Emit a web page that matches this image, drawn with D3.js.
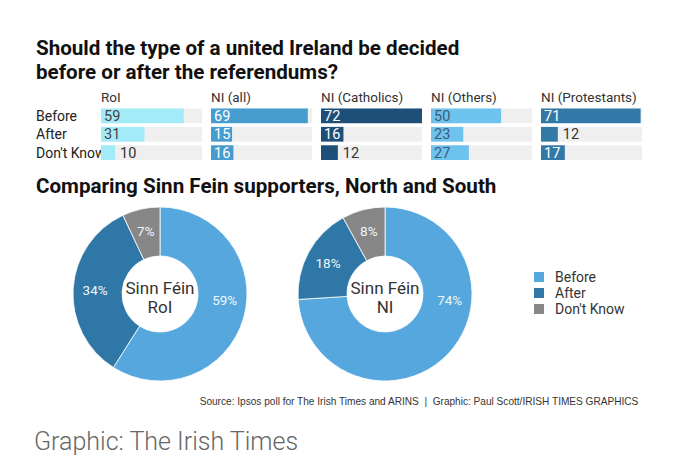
<!DOCTYPE html>
<html><head><meta charset="utf-8">
<script src="https://cdn.jsdelivr.net/npm/d3@7"></script>
<style>
html,body{margin:0;padding:0;background:#fff;}
svg{display:block;font-family:Roboto,"Noto Sans",sans-serif;}
</style></head>
<body>
<svg id="chart" width="680" height="461"></svg>
<script>
// ---- data ----
const groups = ["RoI", "NI (all)", "NI (Catholics)", "NI (Others)", "NI (Protestants)"];
const answers = ["Before", "After", "Don't Know"];
const beforeVals = [59, 69, 72, 50, 71];
const afterVals = [31, 15, 16, 23, 12];
const dontKnowVals = [10, 16, 12, 27, 17];
const donutTitles = [["Sinn Féin", "RoI"], ["Sinn Féin", "NI"]];
const sfRoI = [59, 34, 7];
const sfNI = [74, 18, 8];
const title1 = ["Should the type of a united Ireland be decided", "before or after the referendums?"];
const title2 = "Comparing Sinn Fein supporters, North and South";
const sourceText = "Source: Ipsos poll for The Irish Times and ARINS  |  Graphic: Paul Scott/IRISH TIMES GRAPHICS";
const footer = "Graphic: The Irish Times";

// ---- styles ----
const groupColors = ["#a4ebfa", "#479ccf", "#1e4f79", "#6dc2ee", "#3379a8"];
const groupText = ["#444", "#fff", "#fff", "#3d5d74", "#fff"];
const donutColors = ["#55a7dd", "#2f77a6", "#878787"];

const svg = d3.select("#chart");
svg.append("rect").attr("width", 680).attr("height", 461).attr("fill", "#fff");

// titles
svg.append("text").attr("x", 36).attr("y", 55).attr("font-size", 20.6).attr("font-weight", 700).attr("fill", "#111")
  .selectAll("tspan").data(title1).join("tspan").attr("x", 36).attr("dy", (d, i) => i ? 23.5 : 0).text(d => d);

// bar panels
const matrix = [beforeVals, afterVals, dontKnowVals];
const x = d3.scaleBand().domain(groups).range([101, 642]).paddingInner(9 / 110).paddingOuter(0);
const y = d3.scaleBand().domain(answers).range([108.5, 160]).paddingInner(0.2).paddingOuter(0);
const v = d3.scaleLinear().domain([0, 72]).range([0, x.bandwidth()]);

svg.append("g").selectAll("text").data(groups).join("text")
  .attr("x", d => x(d)).attr("y", 102).attr("font-size", 13.5).attr("fill", "#333").text(d => d);

svg.append("g").selectAll("text").data(answers).join("text")
  .attr("x", 36).attr("y", d => y(d) + y.bandwidth() / 2 + 5).attr("font-size", 14).attr("fill", "#222").text(d => d);

groups.forEach((g, gi) => {
  const gg = svg.append("g");
  answers.forEach((a, ai) => {
    const val = matrix[ai][gi];
    gg.append("rect").attr("x", x(g)).attr("y", y(a)).attr("width", x.bandwidth()).attr("height", y.bandwidth()).attr("fill", "#efefef");
    const w = v(val);
    gg.append("rect").attr("x", x(g)).attr("y", y(a)).attr("width", w).attr("height", y.bandwidth()).attr("fill", groupColors[gi]);
    const t = gg.append("text").attr("y", y(a) + y.bandwidth() / 2 + 5).attr("font-size", 14.5).text(val);
    const tw = t.node().getComputedTextLength();
    if (tw + 4 <= w) t.attr("x", x(g) + 3).attr("fill", groupText[gi]);
    else t.attr("x", x(g) + w + 5).attr("fill", "#333");
  });
});

// section 2 title
svg.append("text").attr("x", 36).attr("y", 193).attr("font-size", 20.6).attr("font-weight", 700).attr("fill", "#111").text(title2);

// donuts
const pie = d3.pie().sort(null).value(d => d);
const arc = d3.arc().innerRadius(38).outerRadius(87);
const cx = d3.scalePoint().domain([0, 1]).range([160, 385]);
[sfRoI, sfNI].forEach((vals, k) => {
  const g = svg.append("g").attr("transform", `translate(${cx(k)},294)`);
  const arcs = pie(vals);
  g.selectAll("path").data(arcs).join("path").attr("d", arc)
    .attr("fill", (d, i) => donutColors[i]).attr("stroke", "#fff").attr("stroke-width", 0.8);
  g.selectAll("text.lbl").data(arcs).join("text").attr("class", "lbl")
    .attr("transform", d => {
      let ang = (d.startAngle + d.endAngle) / 2;
      if (d.endAngle - d.startAngle > Math.PI) ang = Math.min(ang, Math.PI * 0.53);
      const r = 65;
      return `translate(${r * Math.sin(ang)},${-r * Math.cos(ang) + 5})`;
    })
    .attr("text-anchor", "middle").attr("font-size", 13.5).attr("fill", "#eef6fb").text(d => d.data + "%");
  g.append("text").attr("text-anchor", "middle").attr("font-size", 17).attr("fill", "#333")
    .selectAll("tspan").data(donutTitles[k]).join("tspan").attr("x", 0).attr("y", (d, i) => i ? 19 : 0).text(d => d);
});

// legend
const lg = svg.append("g");
const ly = d3.scalePoint().domain(answers).range([277, 309]);
lg.selectAll("rect").data(answers).join("rect").attr("x", 534).attr("y", d => ly(d) - 5).attr("width", 10).attr("height", 10)
  .attr("fill", (d, i) => donutColors[i]);
lg.selectAll("text").data(answers).join("text").attr("x", 555).attr("y", d => ly(d) + 5).attr("font-size", 14).attr("fill", "#333").text(d => d);

// source
svg.append("text").attr("x", 419).attr("y", 405).attr("text-anchor", "middle").attr("font-family", "'Liberation Sans', Arial, sans-serif")
  .attr("font-size", 10.1).attr("fill", "#333").attr("xml:space", "preserve").style("white-space", "pre").text(sourceText);

// footer
svg.append("text").attr("x", 34).attr("y", 450).attr("font-size", 25).attr("font-weight", 300).attr("fill", "#666").text(footer);
</script>
</body></html>
